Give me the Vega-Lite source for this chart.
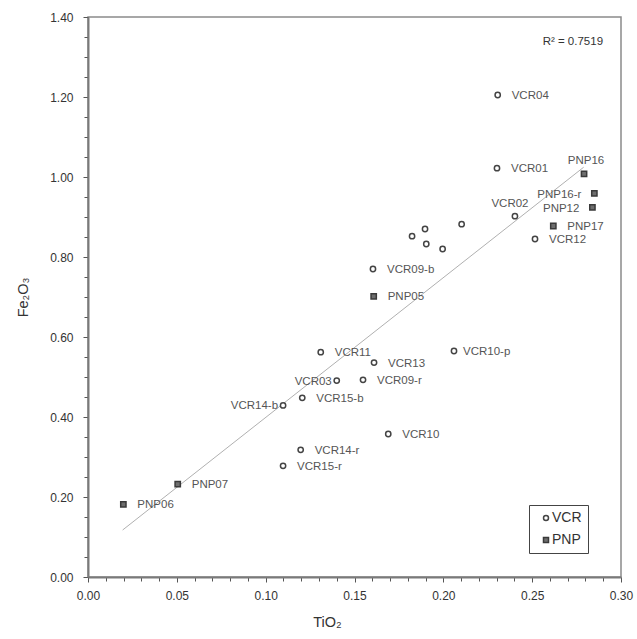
{
  "$schema": "https://vega.github.io/schema/vega-lite/v6.json",
  "width": 533,
  "height": 560,
  "autosize": {"type": "none"},
  "padding": {"left": 88, "top": 17, "right": 16, "bottom": 62},
  "background": "white",
  "config": {
    "font": "Liberation Sans",
    "view": {"stroke": "#8a8a8a", "strokeWidth": 1.5},
    "axis": {"grid": false}
  },
  "datasets": {
    "pts": [
      {"name": "VCR04", "TiO2": 0.2306, "Fe2O3": 1.205, "group": "VCR"},
      {"name": "VCR01", "TiO2": 0.2302, "Fe2O3": 1.022, "group": "VCR"},
      {"name": "VCR02", "TiO2": 0.2403, "Fe2O3": 0.902, "group": "VCR"},
      {"name": "VCR12", "TiO2": 0.2516, "Fe2O3": 0.845, "group": "VCR"},
      {"name": "", "TiO2": 0.2103, "Fe2O3": 0.882, "group": "VCR"},
      {"name": "", "TiO2": 0.1897, "Fe2O3": 0.870, "group": "VCR"},
      {"name": "", "TiO2": 0.1824, "Fe2O3": 0.852, "group": "VCR"},
      {"name": "", "TiO2": 0.1904, "Fe2O3": 0.8325, "group": "VCR"},
      {"name": "", "TiO2": 0.1996, "Fe2O3": 0.820, "group": "VCR"},
      {"name": "VCR09-b", "TiO2": 0.1604, "Fe2O3": 0.770, "group": "VCR"},
      {"name": "VCR11", "TiO2": 0.1310, "Fe2O3": 0.562, "group": "VCR"},
      {"name": "VCR13", "TiO2": 0.1610, "Fe2O3": 0.536, "group": "VCR"},
      {"name": "VCR10-p", "TiO2": 0.2060, "Fe2O3": 0.565, "group": "VCR"},
      {"name": "VCR03", "TiO2": 0.1400, "Fe2O3": 0.491, "group": "VCR"},
      {"name": "VCR09-r", "TiO2": 0.1548, "Fe2O3": 0.493, "group": "VCR"},
      {"name": "VCR15-b", "TiO2": 0.1206, "Fe2O3": 0.448, "group": "VCR"},
      {"name": "VCR14-b", "TiO2": 0.1098, "Fe2O3": 0.429, "group": "VCR"},
      {"name": "VCR10", "TiO2": 0.1690, "Fe2O3": 0.3575, "group": "VCR"},
      {"name": "VCR14-r", "TiO2": 0.1197, "Fe2O3": 0.318, "group": "VCR"},
      {"name": "VCR15-r", "TiO2": 0.1098, "Fe2O3": 0.278, "group": "VCR"},
      {"name": "PNP16", "TiO2": 0.2792, "Fe2O3": 1.008, "group": "PNP"},
      {"name": "PNP16-r", "TiO2": 0.2850, "Fe2O3": 0.959, "group": "PNP"},
      {"name": "PNP12", "TiO2": 0.2839, "Fe2O3": 0.924, "group": "PNP"},
      {"name": "PNP17", "TiO2": 0.2619, "Fe2O3": 0.8775, "group": "PNP"},
      {"name": "PNP05", "TiO2": 0.1608, "Fe2O3": 0.7017, "group": "PNP"},
      {"name": "PNP07", "TiO2": 0.0505, "Fe2O3": 0.232, "group": "PNP"},
      {"name": "PNP06", "TiO2": 0.0199, "Fe2O3": 0.1817, "group": "PNP"}
    ],
    "trend": [
      {"TiO2": 0.0195, "Fe2O3": 0.1175},
      {"TiO2": 0.279, "Fe2O3": 1.0245}
    ],
    "note": [
      {"TiO2": 0.2899, "Fe2O3": 1.3375, "text": "R² = 0.7519"}
    ]
  },
  "layer": [
    {
      "data": {"name": "trend"},
      "mark": {"type": "line", "color": "#b0b0b0", "strokeWidth": 1},
      "encoding": {
        "x": {
          "field": "TiO2", "type": "quantitative",
          "scale": {"domain": [0, 0.3], "nice": false, "zero": false},
          "axis": {
            "title": "TiO₂",
            "titleFontSize": 14.5, "titleFontWeight": "normal", "titleColor": "#333",
            "titleX": 239, "titleY": 45, "titleAlign": "center", "titleBaseline": "middle",
            "tickCount": 200,
            "values": [0,0.01,0.02,0.03,0.04,0.05,0.06,0.07,0.08,0.09,0.1,0.11,0.12,0.13,0.14,0.15,0.16,0.17,0.18,0.19,0.2,0.21,0.22,0.23,0.24,0.25,0.26,0.27,0.28,0.29,0.3],
            "labelExpr": "abs(datum.value*20 - round(datum.value*20)) < 1e-6 ? format(datum.value, '.2f') : ''",
            "labelFontSize": 12, "labelColor": "#333", "labelPadding": 8,
            "labelOverlap": false, "labelFlush": false, "labelBound": false,
            "domainColor": "#7a7a7a", "domainWidth": 2,
            "tickColor": "#555", "tickWidth": 1,
            "tickSize": {"condition": {"test": "abs(datum.value*20 - round(datum.value*20)) < 1e-6", "value": 5}, "value": 4}
          }
        },
        "y": {
          "field": "Fe2O3", "type": "quantitative",
          "scale": {"domain": [0, 1.4], "nice": false, "zero": false},
          "axis": {
            "title": "Fe₂O₃",
            "titleFontSize": 14.5, "titleFontWeight": "normal", "titleColor": "#333",
            "titleX": -65, "titleY": 280, "titleAngle": -90, "titleAlign": "center", "titleBaseline": "middle",
            "tickCount": 200,
            "values": [0,0.05,0.1,0.15,0.2,0.25,0.3,0.35,0.4,0.45,0.5,0.55,0.6,0.65,0.7,0.75,0.8,0.85,0.9,0.95,1,1.05,1.1,1.15,1.2,1.25,1.3,1.35,1.4],
            "labelExpr": "abs(datum.value*5 - round(datum.value*5)) < 1e-6 ? format(datum.value, '.2f') : ''",
            "labelFontSize": 12, "labelColor": "#333", "labelPadding": 10,
            "labelOverlap": false, "labelFlush": false, "labelBound": false,
            "domainColor": "#7a7a7a", "domainWidth": 2,
            "tickColor": "#555", "tickWidth": 1,
            "tickSize": {"condition": {"test": "abs(datum.value*5 - round(datum.value*5)) < 1e-6", "value": 5}, "value": 4}
          }
        }
      }
    },
    {
      "data": {"name": "pts"},
      "mark": {"type": "point", "filled": true, "strokeWidth": 1.5, "size": 28, "opacity": 1},
      "encoding": {
        "x": {"field": "TiO2", "type": "quantitative"},
        "y": {"field": "Fe2O3", "type": "quantitative"},
        "shape": {
          "field": "group", "type": "nominal",
          "scale": {"domain": ["VCR", "PNP"], "range": ["circle", "square"]},
          "legend": {
            "title": null, "orient": "none", "legendX": 441, "legendY": 488,
            "padding": 6, "rowPadding": 8, "symbolOffset": 4,
            "strokeColor": "#444", "fillColor": "white",
            "labelFontSize": 14, "labelColor": "#333", "labelOffset": -1,
            "labelExpr": "datum.label + '\u00a0\u00a0\u00a0'",
            "symbolSize": 25, "symbolStrokeWidth": 1.5
          }
        },
        "fill": {
          "field": "group", "type": "nominal",
          "scale": {"domain": ["VCR", "PNP"], "range": ["white", "#6e6e6e"]},
          "legend": {
            "title": null, "orient": "none", "legendX": 441, "legendY": 488,
            "padding": 6, "rowPadding": 8, "symbolOffset": 4,
            "strokeColor": "#444", "fillColor": "white",
            "labelFontSize": 14, "labelColor": "#333", "labelOffset": -1,
            "labelExpr": "datum.label + '\u00a0\u00a0\u00a0'",
            "symbolSize": 25, "symbolStrokeWidth": 1.5
          }
        },
        "stroke": {
          "field": "group", "type": "nominal",
          "scale": {"domain": ["VCR", "PNP"], "range": ["#444", "#3a3a3a"]},
          "legend": {
            "title": null, "orient": "none", "legendX": 441, "legendY": 488,
            "padding": 6, "rowPadding": 8, "symbolOffset": 4,
            "strokeColor": "#444", "fillColor": "white",
            "labelFontSize": 14, "labelColor": "#333", "labelOffset": -1,
            "labelExpr": "datum.label + '\u00a0\u00a0\u00a0'",
            "symbolSize": 25, "symbolStrokeWidth": 1.5
          }
        }
      }
    },
    {
      "data": {"name": "pts"},
      "transform": [{"filter": {"field": "name", "oneOf": ["VCR04","VCR01","PNP17","VCR12","VCR09-b","PNP05","VCR11","VCR15-b","VCR14-r","VCR15-r","PNP07","VCR13","VCR09-r","VCR10","PNP06"]}}],
      "mark": {"type": "text", "align": "left", "baseline": "middle", "dx": 14, "dy": 1, "fontSize": 11.5, "color": "#555"},
      "encoding": {
        "x": {"field": "TiO2", "type": "quantitative"},
        "y": {"field": "Fe2O3", "type": "quantitative"},
        "text": {"field": "name"}
      }
    },
    {
      "data": {"name": "pts"},
      "transform": [{"filter": {"field": "name", "oneOf": ["VCR10-p"]}}],
      "mark": {"type": "text", "align": "left", "baseline": "middle", "dx": 9, "dy": 1, "fontSize": 11.5, "color": "#555"},
      "encoding": {
        "x": {"field": "TiO2", "type": "quantitative"},
        "y": {"field": "Fe2O3", "type": "quantitative"},
        "text": {"field": "name"}
      }
    },
    {
      "data": {"name": "pts"},
      "transform": [{"filter": {"field": "name", "oneOf": ["PNP16-r", "PNP12"]}}],
      "mark": {"type": "text", "align": "right", "baseline": "middle", "dx": -13, "dy": 1.5, "fontSize": 11.5, "color": "#555"},
      "encoding": {
        "x": {"field": "TiO2", "type": "quantitative"},
        "y": {"field": "Fe2O3", "type": "quantitative"},
        "text": {"field": "name"}
      }
    },
    {
      "data": {"name": "pts"},
      "transform": [{"filter": {"field": "name", "oneOf": ["VCR03", "VCR14-b"]}}],
      "mark": {"type": "text", "align": "right", "baseline": "middle", "dx": -5, "dy": 1, "fontSize": 11.5, "color": "#555"},
      "encoding": {
        "x": {"field": "TiO2", "type": "quantitative"},
        "y": {"field": "Fe2O3", "type": "quantitative"},
        "text": {"field": "name"}
      }
    },
    {
      "data": {"name": "pts"},
      "transform": [{"filter": {"field": "name", "oneOf": ["PNP16"]}}],
      "mark": {"type": "text", "align": "center", "baseline": "middle", "dx": 2, "dy": -13, "fontSize": 11.5, "color": "#555"},
      "encoding": {
        "x": {"field": "TiO2", "type": "quantitative"},
        "y": {"field": "Fe2O3", "type": "quantitative"},
        "text": {"field": "name"}
      }
    },
    {
      "data": {"name": "pts"},
      "transform": [{"filter": {"field": "name", "oneOf": ["VCR02"]}}],
      "mark": {"type": "text", "align": "center", "baseline": "middle", "dx": -5, "dy": -12, "fontSize": 11.5, "color": "#555"},
      "encoding": {
        "x": {"field": "TiO2", "type": "quantitative"},
        "y": {"field": "Fe2O3", "type": "quantitative"},
        "text": {"field": "name"}
      }
    },
    {
      "data": {"name": "note"},
      "mark": {"type": "text", "align": "right", "baseline": "middle", "fontSize": 11.5, "color": "#333"},
      "encoding": {
        "x": {"field": "TiO2", "type": "quantitative"},
        "y": {"field": "Fe2O3", "type": "quantitative"},
        "text": {"field": "text"}
      }
    }
  ]
}
